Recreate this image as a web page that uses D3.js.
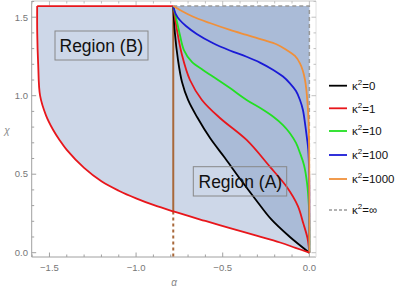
<!DOCTYPE html>
<html><head><meta charset="utf-8">
<script src="https://cdn.jsdelivr.net/npm/d3@7"></script>
<style>html,body{margin:0;padding:0;background:#fff;}svg{display:block;font-family:"Liberation Sans",Arial,sans-serif;}</style>
</head><body>
<svg id="c" width="403" height="292"></svg>
<script>
const HALF_PI = Math.PI/2, QPI = Math.PI/4;
// Outer boundary (κ²=1 curve bounding region B): [alpha, chi]
const outerRed = [[-1.5708,1.5708],[-1.5705,1.40],[-1.565,1.20],[-1.554,1.0],[-1.52,0.875],[-1.48,0.785],[-1.44,0.715],[-1.40,0.655],[-1.30,0.540],[-1.20,0.455],[-1.10,0.395],[-1.00,0.346],[-0.90,0.304],[-0.785,0.263],[-0.60,0.202],[-0.458,0.156],[-0.30,0.107],[-0.169,0.065],[-0.08,0.031],[0,0]];
// Region A curves
const kBlack = [[-0.7854,1.5708],[-0.776,1.399],[-0.758,1.227],[-0.735,1.087],[-0.700,0.973],[-0.648,0.864],[-0.573,0.730],[-0.487,0.603],[-0.395,0.463],[-0.308,0.336],[-0.222,0.215],[-0.112,0.100],[0,0]];
const kRed = [[-0.7854,1.5708],[-0.764,1.418],[-0.735,1.259],[-0.689,1.100],[-0.620,0.973],[-0.516,0.858],[-0.362,0.718],[-0.228,0.548],[-0.131,0.420],[-0.066,0.297],[-0.035,0.187],[-0.011,0.094],[0,0]];
const kGreen = [[-0.7854,1.5708],[-0.764,1.470],[-0.747,1.387],[-0.724,1.291],[-0.678,1.215],[-0.614,1.164],[-0.555,1.121],[-0.458,1.049],[-0.362,0.973],[-0.274,0.915],[-0.208,0.866],[-0.152,0.813],[-0.112,0.761],[-0.077,0.699],[-0.054,0.635],[-0.031,0.559],[-0.014,0.450],[-0.003,0.304],[0,0.145],[0,0]];
const kBlue = [[-0.7854,1.5708],[-0.771,1.520],[-0.748,1.482],[-0.712,1.444],[-0.650,1.393],[-0.555,1.334],[-0.459,1.288],[-0.362,1.248],[-0.285,1.211],[-0.208,1.164],[-0.152,1.122],[-0.112,1.079],[-0.077,1.030],[-0.054,0.973],[-0.037,0.909],[-0.025,0.824],[-0.014,0.731],[-0.006,0.654],[-0.001,0.495],[0,0.336],[0,0]];
const kOrange = [[-0.7854,1.5708],[-0.747,1.546],[-0.670,1.503],[-0.574,1.463],[-0.458,1.419],[-0.362,1.387],[-0.266,1.355],[-0.187,1.326],[-0.131,1.291],[-0.083,1.253],[-0.054,1.206],[-0.037,1.157],[-0.025,1.100],[-0.017,1.036],[-0.012,0.973],[-0.005,0.846],[-0.001,0.654],[0,0.336],[0,0]];
const legendLabels = ["0","1","10","100","1000","∞"];
const legendColors = ["#000000","#e8161b","#22e022","#1a1ad6","#f0903a","#999999"];
const xTicks = [-1.5,-1.0,-0.5,0.0];
const yTicks = [0.0,0.5,1.0,1.5];

const svg = d3.select("#c");
const x = d3.scaleLinear().domain([-1.6024,0.0384]).range([31.7,316]);
const y = d3.scaleLinear().domain([-0.0274,1.6032]).range([257,1]);
const line = d3.line().x(d=>x(d[0])).y(d=>y(d[1])).curve(d3.curveCatmullRom.alpha(0.5));

// fills
const outerD = line(outerRed);
svg.append("path").attr("d", outerD + `L${x(0)},${y(HALF_PI)}Z`).attr("fill","#cdd7e8");
const blackD = line(kBlack);
svg.append("path").attr("d", blackD + `L${x(0)},${y(HALF_PI)}Z`).attr("fill","#aabbd7");

// frame
const fr = svg.append("g").attr("stroke","#a0a0a0").attr("stroke-width",1).attr("fill","none");
fr.append("line").attr("x1",31.7).attr("x2",31.7).attr("y1",1).attr("y2",257);
fr.append("line").attr("x1",31.7).attr("x2",316).attr("y1",257).attr("y2",257);
fr.append("line").attr("x1",31.7).attr("x2",316).attr("y1",1).attr("y2",1).attr("stroke","#c8c8c8");
fr.append("line").attr("x1",316).attr("x2",316).attr("y1",1).attr("y2",257).attr("stroke","#e0e0e0");
// ticks
const xMinor = d3.range(-16,1).map(i=>i/10);
const yMinor = d3.range(0,17).map(i=>i/10);
xMinor.forEach(v=>{
  const major = xTicks.some(t=>Math.abs(t-v)<1e-6);
  const L = major?4.5:2.5;
  fr.append("line").attr("x1",x(v)).attr("x2",x(v)).attr("y1",257).attr("y2",257-L);
  fr.append("line").attr("x1",x(v)).attr("x2",x(v)).attr("y1",1).attr("y2",1+L).attr("stroke","#c0c0c0");
});
yMinor.forEach(v=>{
  const major = yTicks.some(t=>Math.abs(t-v)<1e-6);
  const L = major?4.5:2.5;
  fr.append("line").attr("y1",y(v)).attr("y2",y(v)).attr("x1",31.7).attr("x2",31.7+L);
  fr.append("line").attr("y1",y(v)).attr("y2",y(v)).attr("x1",316).attr("x2",316-L).attr("stroke","#c0c0c0");
});
const fmt = v => (v<0?"\u2212":"") + Math.abs(v).toFixed(1);
svg.append("g").selectAll("text").data(xTicks).join("text")
  .attr("x",d=>x(d)).attr("y",271).attr("text-anchor","middle").attr("font-size",9.5).attr("fill","#777").text(fmt);
svg.append("g").selectAll("text").data(yTicks).join("text")
  .attr("x",28).attr("y",d=>y(d)+3.3).attr("text-anchor","end").attr("font-size",9.5).attr("fill","#777").text(fmt);
svg.append("text").attr("x",7).attr("y",134).attr("text-anchor","middle").attr("font-size",10).attr("fill","#888").attr("font-style","italic").text("χ");
svg.append("text").attr("x",174).attr("y",286).attr("text-anchor","middle").attr("font-size",10).attr("fill","#888").attr("font-style","italic").text("α");

// top red line (region B top)
svg.append("line").attr("x1",x(-HALF_PI)).attr("x2",x(-QPI)).attr("y1",y(HALF_PI)).attr("y2",y(HALF_PI)).attr("stroke","#e8161b").attr("stroke-width",1.8);
// dashed infinite boundary
svg.append("path").attr("d",`M${x(-QPI)},${y(HALF_PI)}L${x(0)},${y(HALF_PI)}L${x(0)},${y(0)}`)
  .attr("fill","none").attr("stroke","#999").attr("stroke-width",1.5).attr("stroke-dasharray","4,3");
// brown vertical line
const yMeet = 0.263;
svg.append("line").attr("x1",x(-QPI)).attr("x2",x(-QPI)).attr("y1",y(HALF_PI)).attr("y2",y(yMeet)).attr("stroke","#a8683a").attr("stroke-width",2);
svg.append("line").attr("x1",x(-QPI)).attr("x2",x(-QPI)).attr("y1",y(yMeet)).attr("y2",257).attr("stroke","#a8683a").attr("stroke-width",2).attr("stroke-dasharray","3,3");

// curves
const series = [kBlack,kRed,kGreen,kBlue,kOrange];
series.forEach((s,i)=>{
  svg.append("path").attr("d",line(s)).attr("fill","none").attr("stroke",legendColors[i]).attr("stroke-width",1.8);
});
svg.append("path").attr("d",outerD).attr("fill","none").attr("stroke",legendColors[1]).attr("stroke-width",1.8);

// region labels
svg.append("rect").attr("x",55).attr("y",31).attr("width",93).attr("height",29).attr("fill","none").attr("stroke","#888").attr("stroke-width",1);
svg.append("text").attr("x",59.5).attr("y",51.5).attr("font-size",17.5).attr("fill","#111").text("Region (B)");
svg.append("rect").attr("x",193.3).attr("y",166.7).attr("width",93.4).attr("height",29.3).attr("fill","none").attr("stroke","#888").attr("stroke-width",1);
svg.append("text").attr("x",198.5).attr("y",187.5).attr("font-size",17.5).attr("fill","#111").text("Region (A)");

// legend
const legY = [85.7,108.3,131,155,179,210];
const lg = svg.append("g");
legendLabels.forEach((lab,i)=>{
  const g = lg.append("g");
  g.append("line").attr("x1",329).attr("x2",347).attr("y1",legY[i]).attr("y2",legY[i])
    .attr("stroke",legendColors[i]).attr("stroke-width",i===5?1.3:1.8).attr("stroke-dasharray",i===5?"3,2":null);
  const t = g.append("text").attr("x",352).attr("y",legY[i]+4.3).attr("font-size",11.5).attr("fill","#111");
  t.append("tspan").text("κ");
  t.append("tspan").attr("font-size",8).attr("dy",-5).text("2");
  t.append("tspan").attr("dy",5).text("=" + lab);
});
</script>
</body></html>
